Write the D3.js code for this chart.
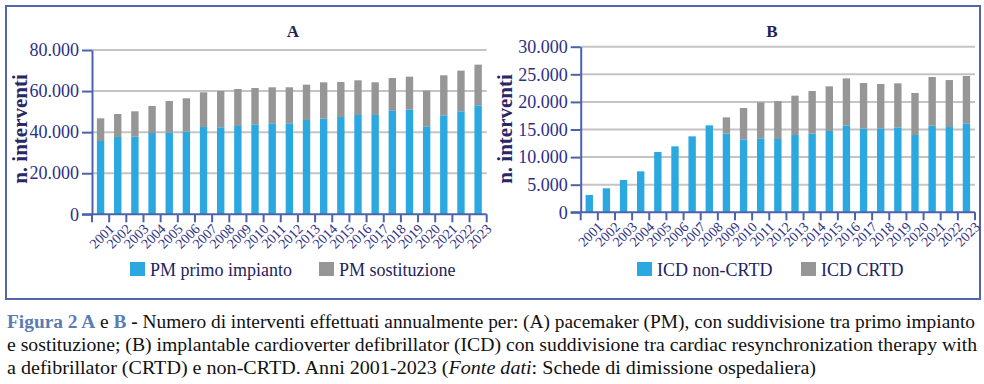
<!DOCTYPE html>
<html>
<head>
<meta charset="utf-8">
<script src="https://cdn.jsdelivr.net/npm/d3@7"></script>
<style>
  body { margin: 0; background: #fff; }
  svg text { font-family: "Liberation Serif", "Times New Roman", Times, "DejaVu Serif", serif; }
</style>
</head>
<body>
<svg id="chart" width="984" height="384"></svg>
<script>
// --- Dati ---
const anni = d3.range(2001, 2024).map(String);

// Pannello A: pacemaker
const pmPrimo = [35700, 37650, 37800, 39600, 39760, 40250, 42520, 42360, 43000, 43820, 44300, 44300,
                 45930, 46580, 47390, 48360, 48360, 50640, 50960, 42850, 48200, 50150, 53070];
const pmSostituzione = [11040, 11200, 12350, 13150, 15420, 16230, 16880, 17690, 18020, 17680, 17540, 17540,
                        17200, 17690, 17040, 16880, 15910, 15740, 16070, 17360, 19480, 19800, 19800];

// Pannello B: ICD
const icdNonCrtd = [3140, 4350, 5850, 7420, 10930, 11950, 13760, 15750, 14250, 13220, 13400, 13280,
                    14000, 14250, 14730, 15750, 15150, 15210, 15390, 14000, 15690, 15450, 16120];
const icdCrtd = [0, 0, 0, 0, 0, 0, 0, 0, 2950, 5670, 6520, 6880,
                 7130, 7720, 8090, 8510, 8270, 8030, 7970, 7610, 8820, 8510, 8570];

const ticksA = [0, 20000, 40000, 60000, 80000];
const ticksB = [0, 5000, 10000, 15000, 20000, 25000, 30000];

const coloreBlu = "#2ba8e0", coloreGrigio = "#969696";
const coloreAsse = "#4d62ad", coloreTesto = "#2c2f85";
const serif = '"Liberation Serif", "Times New Roman", Times, "DejaVu Serif", serif';
const fmt = v => d3.format(",")(v).replace(/,/g, ".");

const svg = d3.select("#chart");

// --- Cornice ---
svg.append("rect")
  .attr("x", 6).attr("y", 6).attr("width", 974).attr("height", 293)
  .attr("fill", "none").attr("stroke", "#5265ad").attr("stroke-width", 2);

function pannello(opt) {
  const g = svg.append("g").attr("font-family", serif);
  const x = d3.scaleBand().domain(anni).range([opt.x0, opt.x1])
              .paddingInner(0.57).paddingOuter(0.285);
  const y = d3.scaleLinear().domain([0, opt.max]).range([opt.y0, opt.y1]);

  // griglia
  g.selectAll("line.grid").data(opt.ticks.filter(d => d > 0)).enter().append("line")
    .attr("x1", opt.x0).attr("x2", opt.x1)
    .attr("y1", d => y(d)).attr("y2", d => y(d))
    .attr("stroke", "#c4c4c4").attr("stroke-width", 2);

  // barre
  const dati = anni.map((a, i) => ({anno: a, base: opt.s1[i], extra: opt.s2[i]}));
  g.selectAll("rect.s1").data(dati).enter().append("rect")
    .attr("x", d => x(d.anno)).attr("width", x.bandwidth())
    .attr("y", d => y(d.base)).attr("height", d => y(0) - y(d.base))
    .attr("fill", coloreBlu);
  g.selectAll("rect.s2").data(dati.filter(d => d.extra > 0)).enter().append("rect")
    .attr("x", d => x(d.anno)).attr("width", x.bandwidth())
    .attr("y", d => y(d.base + d.extra)).attr("height", d => y(d.base) - y(d.base + d.extra))
    .attr("fill", coloreGrigio);

  // asse Y
  const ay = g.append("g")
    .attr("transform", `translate(${opt.x0},0)`)
    .call(d3.axisLeft(y).tickValues(opt.ticks).tickFormat(fmt).tickSize(10).tickSizeOuter(0).tickPadding(3));
  ay.attr("font-family", serif);
  ay.select(".domain").attr("stroke", coloreAsse).attr("stroke-width", 2);
  ay.selectAll(".tick line").attr("stroke", coloreAsse).attr("stroke-width", 2);
  ay.selectAll("text").attr("fill", coloreTesto).attr("font-size", 18);

  // asse X
  g.append("line").attr("x1", opt.x0 - 10).attr("x2", opt.x1)
    .attr("y1", y(0)).attr("y2", y(0))
    .attr("stroke", coloreAsse).attr("stroke-width", 2);
  const step = x.step();
  g.selectAll("line.xt").data(d3.range(anni.length + 1)).enter().append("line")
    .attr("x1", k => opt.x0 + k * step).attr("x2", k => opt.x0 + k * step)
    .attr("y1", y(0)).attr("y2", y(0) + 8)
    .attr("stroke", coloreAsse).attr("stroke-width", 2);
  g.selectAll("text.anno").data(anni).enter().append("text")
    .attr("transform", d => `translate(${x(d) + x.bandwidth() / 2 + 7},${y(0) + 8}) rotate(-45)`)
    .attr("text-anchor", "end").attr("dy", "0.75em")
    .attr("fill", coloreTesto).attr("font-size", 14)
    .text(d => d);

  // titolo
  g.append("text").attr("x", opt.titoloX).attr("y", 37)
    .attr("text-anchor", "middle").attr("fill", "#23235e")
    .attr("font-size", 17).attr("font-weight", "bold")
    .text(opt.titolo);

  // etichetta asse Y
  g.append("text")
    .attr("transform", `translate(${opt.labelX},129) rotate(-90)`)
    .attr("text-anchor", "middle").attr("fill", "#2a2766")
    .attr("font-size", 21).attr("font-weight", "bold")
    .text("n. interventi");

  // legenda
  opt.legenda.forEach(l => {
    g.append("rect").attr("x", l.x).attr("y", 262).attr("width", 15).attr("height", 14)
      .attr("fill", l.colore);
    g.append("text").attr("x", l.x + 20).attr("y", 275.5)
      .attr("fill", "#23235e").attr("font-size", 18).text(l.testo);
  });
}

pannello({
  x0: 92, x1: 486.7, y0: 214.3, y1: 50, max: 80000, ticks: ticksA,
  s1: pmPrimo, s2: pmSostituzione, titolo: "A", titoloX: 293, labelX: 27,
  legenda: [{x: 130, colore: coloreBlu, testo: "PM primo impianto"},
            {x: 319, colore: coloreGrigio, testo: "PM sostituzione"}]
});

pannello({
  x0: 580.7, x1: 975, y0: 212.3, y1: 46.7, max: 30000, ticks: ticksB,
  s1: icdNonCrtd, s2: icdCrtd, titolo: "B", titoloX: 772, labelX: 512,
  legenda: [{x: 637, colore: coloreBlu, testo: "ICD non-CRTD"},
            {x: 801, colore: coloreGrigio, testo: "ICD CRTD"}]
});

// --- Didascalia ---
const blu = "#5b7bb5";
const righe = [
  [{t: "Figura 2 A", c: blu, b: true}, {t: " e ", c: "#111"}, {t: "B", c: blu, b: true},
   {t: " - ", c: "#111", b: true},
   {t: "Numero di interventi effettuati annualmente per: (A) pacemaker (PM), con suddivisione tra primo impianto", c: "#111"}],
  [{t: "e sostituzione; (B) implantable cardioverter defibrillator (ICD) con suddivisione tra cardiac resynchronization therapy with", c: "#111"}],
  [{t: "a defibrillator (CRTD) e non-CRTD. Anni 2001-2023 (", c: "#111"}, {t: "Fonte dati", c: "#111", i: true},
   {t: ": Schede di dimissione ospedaliera)", c: "#111"}]
];
const lunghezze = [968, 970, 809];
righe.forEach((r, i) => {
  const t = svg.append("text").attr("x", 7).attr("y", 328 + i * 23)
    .attr("font-family", serif).attr("font-size", 18)
    .attr("textLength", lunghezze[i]).attr("lengthAdjust", "spacingAndGlyphs");
  r.forEach(p => {
    t.append("tspan").text(p.t).attr("fill", p.c)
      .attr("font-weight", p.b ? "bold" : "normal")
      .attr("font-style", p.i ? "italic" : "normal");
  });
});
</script>
</body>
</html>
